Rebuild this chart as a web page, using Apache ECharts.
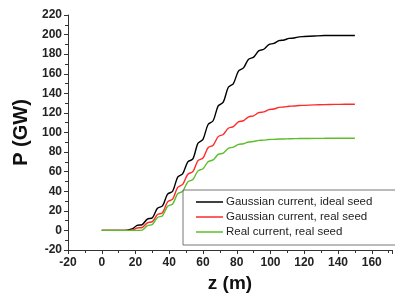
<!DOCTYPE html>
<html>
<head>
<meta charset="utf-8">
<script src="https://cdn.jsdelivr.net/npm/echarts@6/dist/echarts.min.js"></script>
<style>html,body{margin:0;padding:0;background:#fff}#c{width:395px;height:298px}</style>
</head>
<body>
<div id="c"></div>
<script>
var zValues = [0,12,15,18,21,24,27,30,33,36,39,42,45,48,51,54,57,60,63,66,69,72,75,78,81,84,87,90,93,96,99,102,105,108,111,114,117,120,126,132,138,144,150];
var gaussIdeal = [0,0,0.3,1.5,5.1,6,11.6,13,22.6,25,37,40,54.4,58,70,73,89,93,108.2,112,127.2,131,146.2,150,162.8,166,174.8,177,183.4,185,189.8,191,193.8,194.5,196.1,196.5,197.7,198,198.5,199,199,199,199];
var gaussReal = [0,0,0,0.3,2.5,3,7.8,9,16.2,18,29.2,32,44,47,57.4,60,71.2,74,84.4,87,95.8,98,104.4,106,110.8,112,116,117,120.2,121,123.4,124,125.6,126,126.8,127,127.6,127.7,128.2,128.5,128.7,128.8,128.8];
var realReal = [0,0,0,0,0,0.3,4.9,6,13.2,15,24.6,27,37.4,40,49.6,52,60.8,63,70.2,72,77.6,79,83.8,85,87.8,88.5,90.3,90.8,91.9,92.2,92.8,93,93.3,93.4,93.6,93.7,93.9,93.9,94,94.1,94.2,94.2,94.2];
var seriesNames = ['Gaussian current, ideal seed','Gaussian current, real seed','Real current, real seed'];
var seriesColors = ['#000000','#ff2a2a','#5cbf2a'];

function pairs(ys){ return zValues.map(function(z,i){ return [z, ys[i]]; }); }
var allY = [gaussIdeal, gaussReal, realReal];

var chart = echarts.init(document.getElementById('c'), null, {renderer:'canvas'});
var lbl = {fontFamily:'Liberation Sans, Arial', fontWeight:'bold', fontSize:12, color:'#222'};
chart.setOption({
  animation:false,
  grid:{left:68, right:2, top:15, bottom:46},
  xAxis:{
    type:'value', min:-20, max:172, interval:20,
    name:'z (m)', nameLocation:'middle', nameGap:24,
    nameTextStyle:{fontFamily:'Liberation Sans, Arial', fontWeight:'bold', fontSize:19, color:'#111'},
    axisLine:{onZero:false, lineStyle:{color:'#333', width:1}},
    axisTick:{show:true, length:4, lineStyle:{color:'#333'}},
    minorTick:{show:true, splitNumber:2, length:3, lineStyle:{color:'#333'}},
    splitLine:{show:false},
    axisLabel:Object.assign({margin:7, formatter:function(v){ return (v%20===0)? String(v) : ''; }}, lbl)
  },
  yAxis:{
    type:'value', min:-20, max:220, interval:20,
    name:'P (GW)', nameLocation:'middle', nameGap:34,
    nameTextStyle:{fontFamily:'Liberation Sans, Arial', fontWeight:'bold', fontSize:20, color:'#111'},
    axisLine:{show:true, onZero:false, lineStyle:{color:'#333', width:1}},
    axisTick:{show:true, length:4, lineStyle:{color:'#333'}},
    minorTick:{show:true, splitNumber:2, length:3, lineStyle:{color:'#333'}},
    splitLine:{show:false},
    axisLabel:Object.assign({margin:6}, lbl)
  },
  legend:{
    left:183, top:190,
    orient:'vertical', padding:[6,24,7,13],
    borderColor:'#777', borderWidth:1,
    icon:'rect', itemWidth:27, itemHeight:1.5, itemGap:3,
    textStyle:{fontFamily:'Liberation Sans, Arial', fontSize:11.5, color:'#222', padding:[0,0,0,-2]},
    data:seriesNames
  },
  series: allY.map(function(ys,i){
    return {
      name:seriesNames[i], type:'line', data:pairs(ys), showSymbol:false, symbol:'none',
      smooth:0.3, lineStyle:{color:seriesColors[i], width:1.4}, itemStyle:{color:seriesColors[i]}
    };
  })
});
</script>
</body>
</html>
